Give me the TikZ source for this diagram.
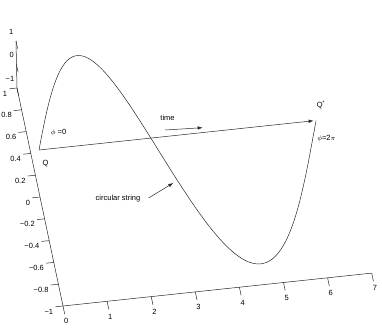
\documentclass[tikz,border=0pt]{standalone}
\usepackage{fontspec}
\setmainfont{Liberation Sans}
\usetikzlibrary{arrows.meta}

\tikzset{
  eje/.style={line width=0.5pt, black!85},
  etiq/.style={font=\fontsize{7.5}{9}\selectfont, inner sep=0pt},
  flecha/.style={line width=0.5pt, black!85, -{Latex[length=5pt,width=3.4pt]}},
}

\begin{document}
\begin{tikzpicture}[x={(44.1pt,4.7pt)}, y={(-23pt,109pt)}, z={(-0.5pt,23.5pt)}]
    \useasboundingbox (-39.5pt,173.5pt) rectangle (342.5pt,-153.5pt);

    % Ejes
    \draw[eje] (0,-1,-1) -- (7,-1,-1);
    \draw[eje] (0,-1,-1) -- (0,1,-1) -- (0,1,1);

    % Marcas del eje x
    \foreach \t in {0,...,7} {
      \draw[eje] (\t,-1,-1) -- (\t,-1.075,-1);
      \node[etiq] (ex\t) at (\t,-1.14,-1) {\t};
    }

    % Marcas del eje y
    \foreach \v/\l [count=\i] in {-1/−1,-0.8/−0.8,-0.6/−0.6,-0.4/−0.4,-0.2/−0.2,
                                  0/0,0.2/0.2,0.4/0.4,0.6/0.6,0.8/0.8,1/1} {
      \draw[eje] (0,\v,-1) -- (-0.175,\v,-1);
      \node[etiq, anchor=east, yshift=-4.5pt] (ey\i) at (-0.22,\v,-1) {\l};
    }

    % Marcas del eje z
    \foreach \v/\l [count=\i] in {-1/−1,0/0,1/1} {
      \draw[eje] (0,1,\v) -- (0,0.93,\v);
      \node[etiq, anchor=east, xshift=-2.5pt, yshift=9.5pt] (ez\i) at (0,1,\v) {\l};
    }

    % Cuerda circular
    \draw[eje] plot[domain=0:6.2832, samples=150, smooth]
         (\x, {sin(\x r)}, {cos(\x r)});

    % Puntos Q y Q*
    \coordinate (Q) at (0,0,1);
    \coordinate (Qs) at (6.2832,0,1);
    \draw[flecha, shorten >=2.5pt] (Q) -- (Qs);
    \node[etiq] (lQ) at ([shift={(6.5pt,-14pt)}]Q) {Q};
    \node[etiq] (lQs) at ([shift={(5pt,15.5pt)}]Qs) {Q\textsuperscript{*}};
    \node[etiq] (fi0) at ([shift={(19.5pt,17.3pt)}]Q) {$\phi$ =0};
    \node[etiq, anchor=west] (fi2) at ([shift={(1pt,-18pt)}]Qs) {$\phi$=2$\pi$};

    % Tiempo
    \node[etiq] (tiempo) at (128pt,55.8pt) {time};
    \coordinate (t1) at (125.5pt,43.5pt);
    \coordinate (t2) at (163.2pt,45.8pt);
    \draw[flecha] (t1) -- (t2);

    % Cuerda
    \node[etiq] (cuerda) at (78.5pt,-25.5pt) {circular string};
    \coordinate (c1) at (109pt,-24.5pt);
    \coordinate (c2) at (133.8pt,-9.5pt);
    \draw[flecha] (c1) -- (c2);
\end{tikzpicture}
\end{document}
